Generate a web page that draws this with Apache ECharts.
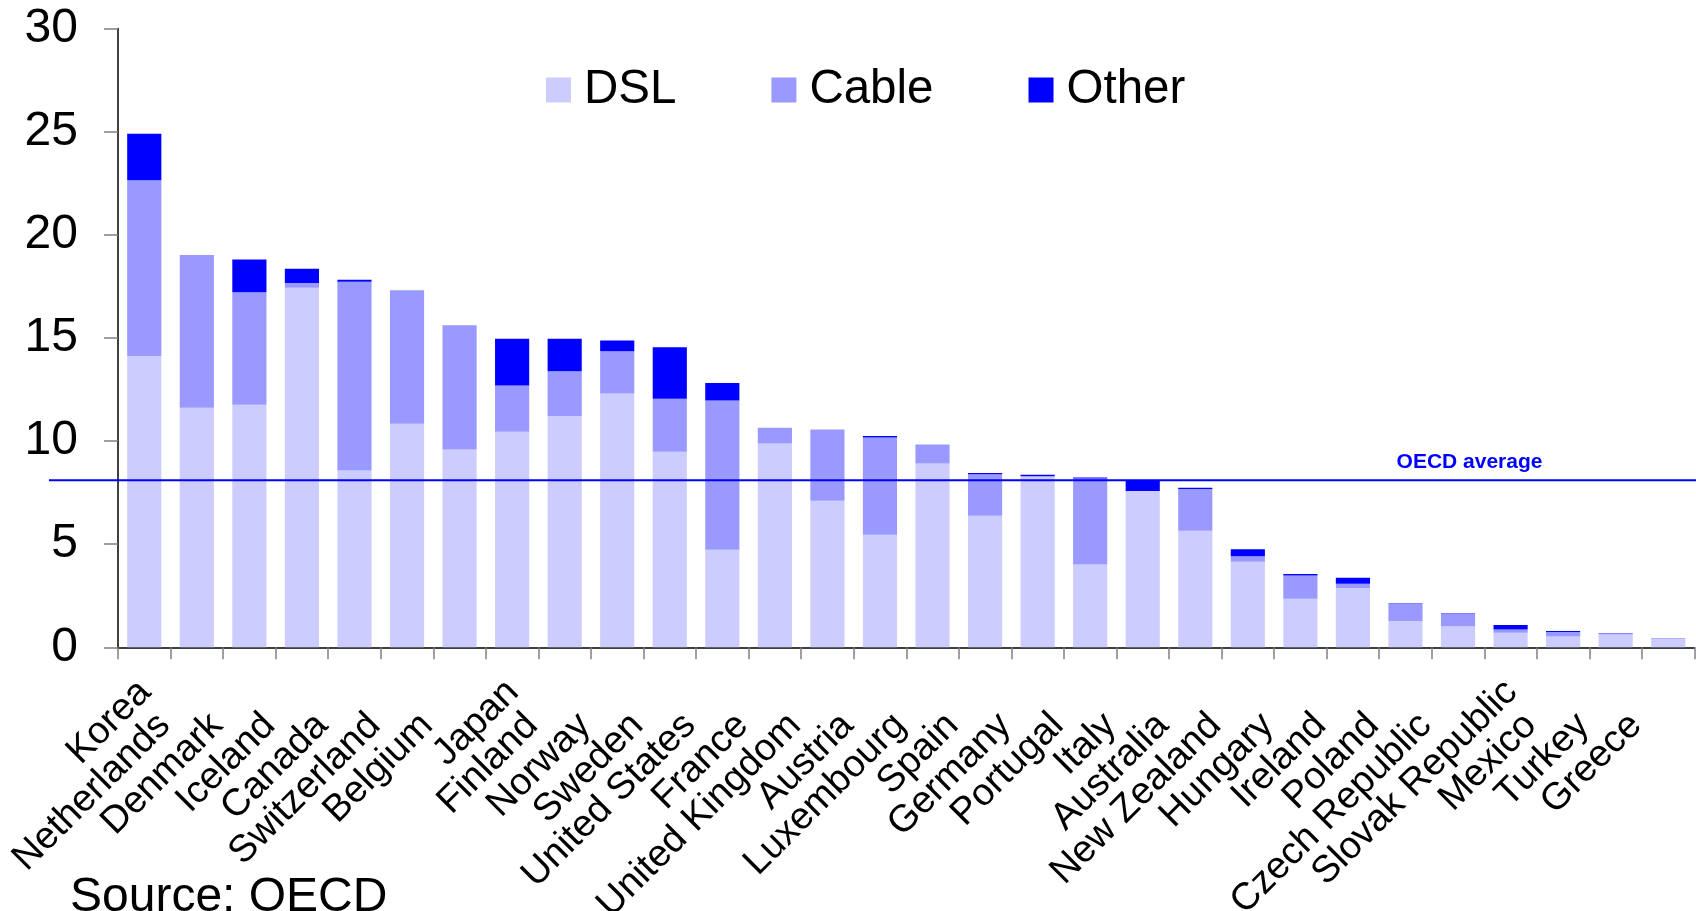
<!DOCTYPE html>
<html>
<head>
<meta charset="utf-8">
<title>Broadband subscribers per 100 inhabitants, by technology</title>
<script src="https://cdn.jsdelivr.net/npm/echarts@6/dist/echarts.min.js"></script>
<style>
  html, body { margin: 0; padding: 0; background: #ffffff; }
  #chart { width: 1696px; height: 911px; }
</style>
</head>
<body>
<div id="chart"></div>
<script>
// Broadband subscribers per 100 inhabitants, split by access technology
const countries = [
  'Korea', 'Netherlands', 'Denmark', 'Iceland', 'Canada', 'Switzerland',
  'Belgium', 'Japan', 'Finland', 'Norway', 'Sweden', 'United States',
  'France', 'United Kingdom', 'Austria', 'Luxembourg', 'Spain', 'Germany',
  'Portugal', 'Italy', 'Australia', 'New Zealand', 'Hungary', 'Ireland',
  'Poland', 'Czech Republic', 'Slovak Republic', 'Mexico', 'Turkey', 'Greece'
];

const dsl = [
  14.12, 11.61, 11.76, 17.43, 8.57, 10.84,
  9.59, 10.45, 11.22, 12.31, 9.48, 4.73,
  9.88, 7.11, 5.46, 8.91, 6.38, 8.28,
  4.02, 7.58, 5.65, 4.15, 2.35, 2.88,
  1.28, 1.02, 0.70, 0.52, 0.62, 0.40
];

const cable = [
  8.53, 7.41, 5.46, 0.24, 9.16, 6.47,
  6.02, 2.24, 2.17, 2.04, 2.57, 7.24,
  0.77, 3.45, 4.71, 0.92, 2.01, 0.02,
  4.16, 0.00, 2.02, 0.26, 1.13, 0.20,
  0.82, 0.60, 0.16, 0.22, 0.06, 0.04
];

const other = [
  2.25, 0.00, 1.58, 0.68, 0.09, 0.00,
  0.00, 2.27, 1.57, 0.53, 2.50, 0.85,
  0.00, 0.00, 0.08, 0.00, 0.06, 0.07,
  0.05, 0.52, 0.07, 0.34, 0.07, 0.29,
  0.02, 0.02, 0.22, 0.05, 0.01, 0.00
];

const seriesNames = ['DSL', 'Cable', 'Other'];
const seriesColors = ['#ccccff', '#9999ff', '#0000ff'];

const oecdAverage = 8.1;
const oecdLabel = 'OECD average';
const sourceNote = 'Source: OECD';

const yMin = 0, yMax = 30, yStep = 5;

// Labels that sit one step further up along their slant
const raisedLabels = ['Korea', 'Japan', 'Slovak Republic'];

const FONT = '"Liberation Sans", Arial, sans-serif';

const chart = echarts.init(document.getElementById('chart'), null, { renderer: 'canvas' });

const labelToken = { fontFamily: FONT, fontSize: 38, color: '#000000', lineHeight: 38 };

chart.setOption({
  animation: false,
  backgroundColor: '#ffffff',
  grid: {
    left: 118, right: 1.5, top: 28.6, bottom: 263.7,
    containLabel: false,
    outerBoundsMode: 'none'
  },
  legend: {
    left: 546,
    top: 66,
    padding: 0,
    itemWidth: 25,
    itemHeight: 25,
    itemGap: 95,
    icon: 'rect',
    textStyle: {
      fontFamily: FONT, fontSize: 47.5, color: '#000000',
      lineHeight: 46, padding: [0, 0, 0, 8]
    },
    data: seriesNames
  },
  xAxis: {
    type: 'category',
    data: countries,
    boundaryGap: true,
    axisLine: { show: true, lineStyle: { color: '#000000', width: 1.5 } },
    axisTick: { show: true, interval: 0, length: 12, lineStyle: { color: '#808080', width: 1.5 } },
    axisLabel: {
      interval: 0,
      rotate: 45,
      margin: 37,
      fontFamily: FONT,
      fontSize: 38,
      color: '#000000',
      formatter: function (v) {
        return raisedLabels.indexOf(v) >= 0 ? '{up|' + v + '}' : '{dn|' + v + '}';
      },
      rich: {
        up: Object.assign({ padding: [4, 1, 0, 0] }, labelToken),
        dn: Object.assign({ padding: [4, 48, 0, 0] }, labelToken)
      }
    },
    splitLine: { show: false }
  },
  yAxis: {
    type: 'value',
    min: yMin,
    max: yMax,
    interval: yStep,
    axisLine: { show: true, lineStyle: { color: '#000000', width: 1.5 } },
    axisTick: { show: true, length: 14, lineStyle: { color: '#808080', width: 1.5 } },
    axisLabel: { margin: 40, fontFamily: FONT, fontSize: 48, color: '#000000' },
    splitLine: { show: false }
  },
  series: [dsl, cable, other].map(function (values, i) {
    return {
      name: seriesNames[i],
      type: 'bar',
      stack: 'total',
      barCategoryGap: '35%',
      itemStyle: { color: seriesColors[i] },
      emphasis: { disabled: true },
      data: values
    };
  })
});

// Reference line for the OECD average, running across the whole plot width
const avgY = chart.convertToPixel({ yAxisIndex: 0 }, oecdAverage);
chart.setOption({
  graphic: [
    {
      type: 'line',
      z: 100,
      silent: true,
      shape: { x1: 49, y1: avgY, x2: 1696, y2: avgY },
      style: { stroke: '#0000ff', lineWidth: 2 }
    },
    {
      type: 'text',
      z: 100,
      silent: true,
      x: 1469.5,
      y: avgY - 18,
      style: {
        text: oecdLabel,
        fontFamily: FONT,
        fontSize: 21,
        fontWeight: 'bold',
        fill: '#0000ff',
        align: 'center',
        verticalAlign: 'middle'
      }
    },
    {
      type: 'text',
      z: 100,
      silent: true,
      x: 70,
      y: 898,
      style: {
        text: sourceNote,
        fontFamily: FONT,
        fontSize: 48,
        fill: '#000000',
        align: 'left',
        verticalAlign: 'middle'
      }
    }
  ]
});
</script>
</body>
</html>
